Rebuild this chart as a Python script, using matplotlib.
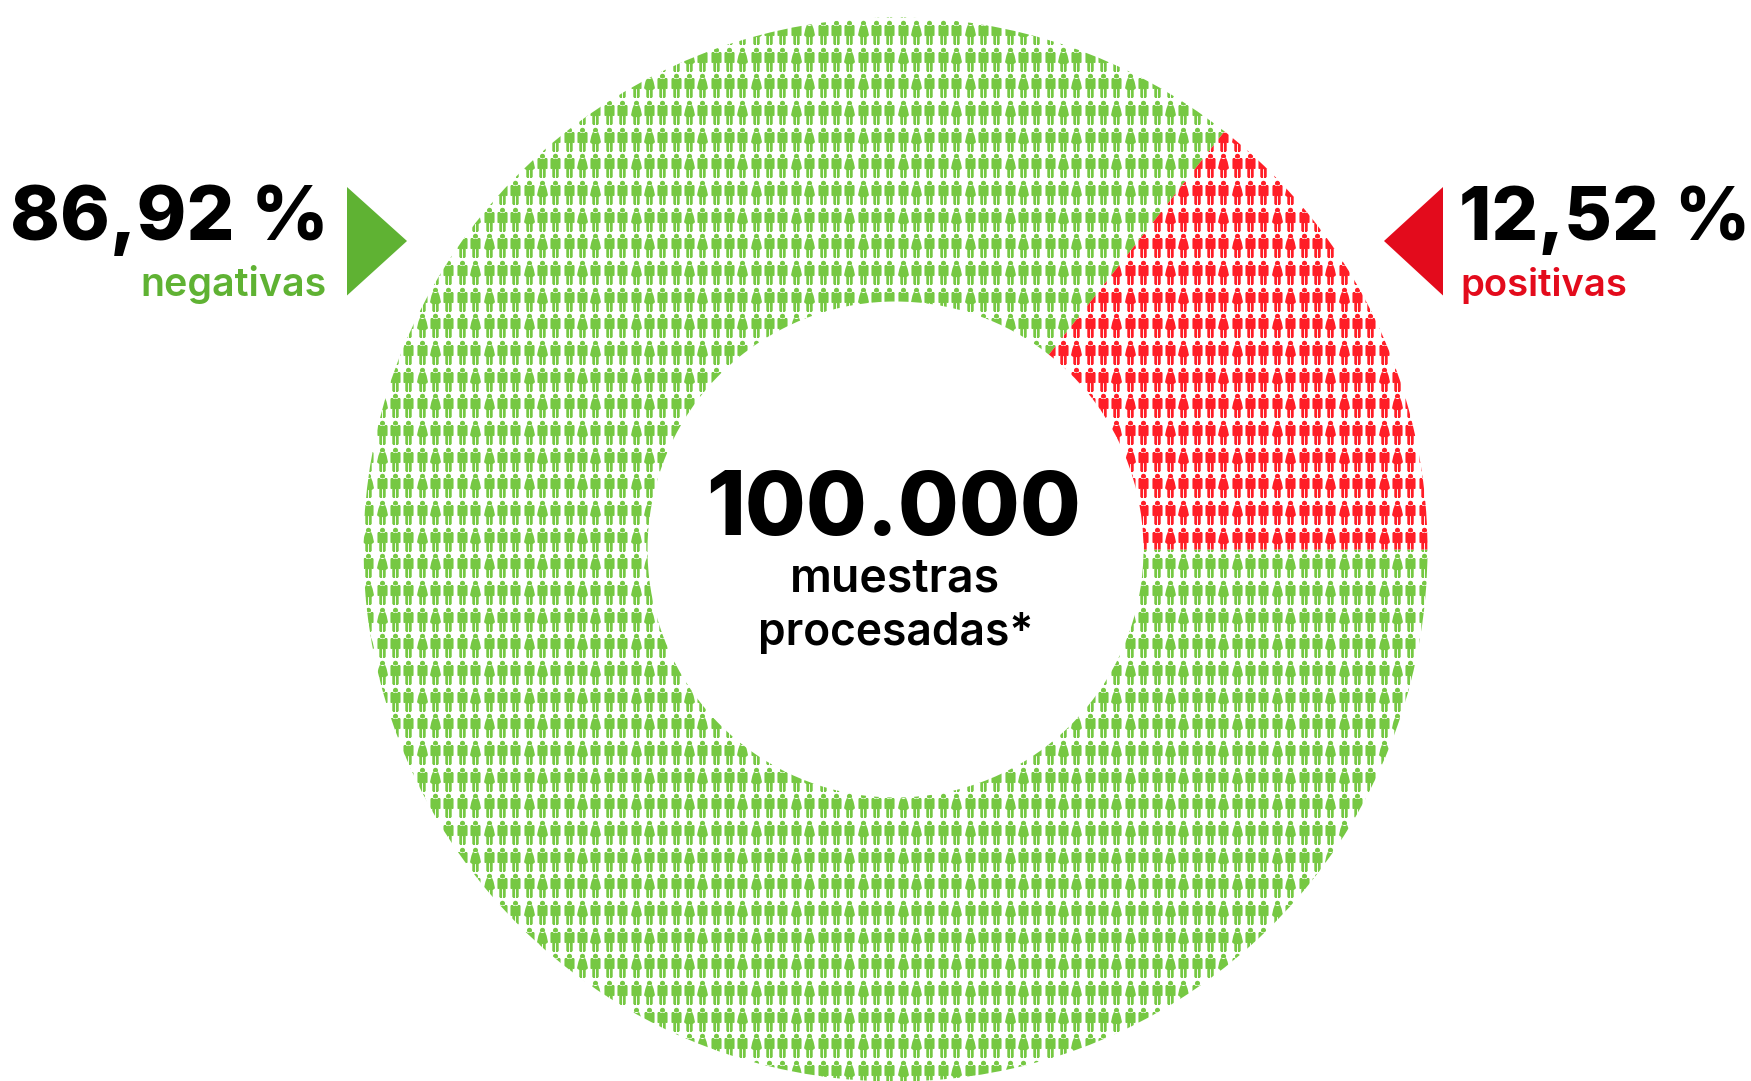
import matplotlib
matplotlib.use("Agg")
import matplotlib.pyplot as plt
from matplotlib.patches import Wedge, Polygon
from matplotlib.path import Path
import numpy as np

# valores
pct_labels = ["86,92 %", "12,52 %"]
cat_labels = ["negativas", "positivas"]
total_label = "100.000"
sub_labels = ["muestras", "procesadas*"]
red_angle = 51.8  # el sector rojo del original no es proporcional

GREEN = "#76C843"
RED = "#FF1E27"
GREEN_DARK = "#5FB233"
RED_DARK = "#E30B1C"

W, H = 1751, 1081
cx, cy = 895.5, 549.5
r_out, r_in = 532, 248

col_step, row_step = 13.36, 26.67
col_ini, row_ini = 368.3 - 28 * col_step, 138.7 - 5 * row_step
icon_px = 23.5


def circulo(x, y, r, n=16):
    t = np.linspace(0, 2 * np.pi, n, endpoint=False)
    v = np.column_stack([x + r * np.cos(t), y + r * np.sin(t)])
    return Path(np.vstack([v, v[0]]), closed=True)


def icono(cuerpo):
    return Path.make_compound_path(circulo(0, 10, 2.8), Path(cuerpo + [cuerpo[0]], closed=True))


hombre = icono([(-5.5, 7.5), (5.5, 7.5), (5.5, -3.5), (3.5, -3.5), (3.5, -12.8), (0.5, -12.8), (0.5, -4),
                (-0.5, -4), (-0.5, -12.8), (-3.5, -12.8), (-3.5, -3.5), (-5.5, -3.5)])
mujer = icono([(-3, 8), (3, 8), (4.5, 4), (6, -3), (3.5, -5), (3.5, -12.8), (0.5, -12.8), (0.5, -5),
               (-0.5, -5), (-0.5, -12.8), (-3.5, -12.8), (-3.5, -5), (-6, -3), (-4.5, 4)])

fig = plt.figure(figsize=(W / 100, H / 100), dpi=100)
ax = fig.add_axes([0, 0, 1, 1])
ax.set_xlim(0, W)
ax.set_ylim(H, 0)
ax.axis("off")

cols = np.arange(0, 133)
rows = np.arange(0, 46)
cc, rr = np.meshgrid(cols, rows)
xs = col_ini + cc.ravel() * col_step
ys = row_ini + rr.ravel() * row_step
# una figura de mujer cada cuatro columnas, desplazada en filas alternas
es_mujer = (cc.ravel() + 28) % 4 == (rr.ravel() + 5 + 1) % 2

sectores = [(GREEN, 0, 360 - red_angle), (RED, -red_angle, 0)]
s = (icon_px * 0.72) ** 2
for color, t1, t2 in sectores:
    w = Wedge((cx, cy), r_out, t1, t2, width=r_out - r_in, facecolor="none", edgecolor="none")
    ax.add_patch(w)
    for mask, forma in [(~es_mujer, hombre), (es_mujer, mujer)]:
        sc = ax.scatter(xs[mask], ys[mask], s=s, marker=forma, c=color, linewidths=0)
        sc.set_clip_path(w)

ax.add_patch(Polygon([(347, 187), (347, 295.5), (407, 241)], closed=True, fc=GREEN_DARK, ec="none"))
ax.add_patch(Polygon([(1443, 187), (1443, 295.5), (1384, 241)], closed=True, fc=RED_DARK, ec="none"))

fig.canvas.draw()
rend = fig.canvas.get_renderer()


def texto(t, x0, x1, base, color, weight, fam="Inter"):
    # ajusta el tamano para que ocupe el mismo ancho que el original
    tx = ax.text(x0, base, t, ha="left", va="baseline", color=color, fontweight=weight,
                 family=fam, fontsize=40)
    ext = tx.get_window_extent(rend)
    tx.set_fontsize(40 * (x1 - x0) / ext.width)
    ext = tx.get_window_extent(rend)
    tx.set_x(x0 - (ext.x0 - x0))
    return tx


texto(pct_labels[0], 10, 329, 240, "black", "heavy")
texto(cat_labels[0], 140, 326, 296, GREEN_DARK, "semibold")
texto(pct_labels[1], 1459, 1750, 240, "black", "heavy")
texto(cat_labels[1], 1460, 1627, 296, RED_DARK, "semibold")
texto(total_label, 706, 1081, 535, "black", "heavy")
texto(sub_labels[0], 790, 1000, 592, "black", "semibold")
texto(sub_labels[1], 758, 1033, 645, "black", "semibold")

fig.savefig("out.png", dpi=100, facecolor="white")
